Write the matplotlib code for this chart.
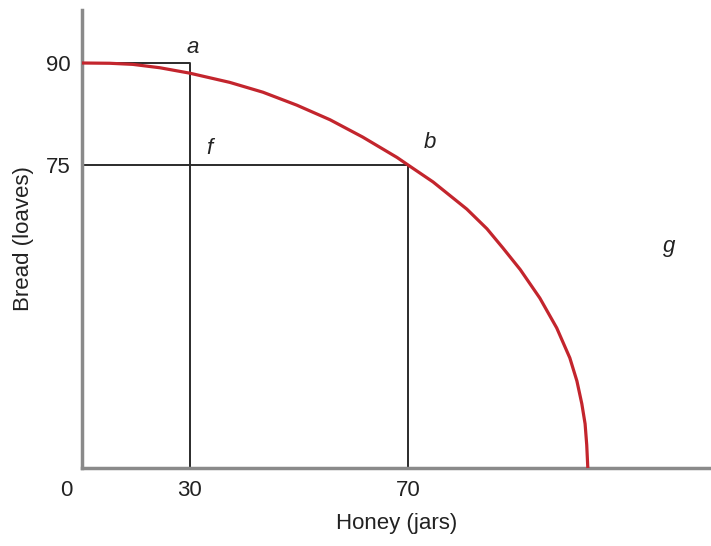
import matplotlib
matplotlib.use("Agg")
import matplotlib.pyplot as plt

# production possibilities frontier
honey = [10.2, 15.3, 19.5, 24.5, 30.0, 37.3, 43.4, 49.6, 55.7, 61.7, 68.0, 70.0,
         74.6, 80.8, 84.5, 87.4, 90.6, 94.2, 97.3, 99.7, 101.0, 101.9, 102.5,
         102.8, 103.0]
bread = [90.0, 89.96, 89.8, 89.3, 88.5, 87.15, 85.7, 83.8, 81.65, 79.1, 76.1, 75.0,
         72.5, 68.5, 65.6, 62.8, 59.6, 55.4, 51.0, 46.6, 43.2, 39.85, 36.9,
         33.8, 30.4]

x_ticks = [30, 70]
y_ticks = [75, 90]

# labelled points: name -> (honey, bread)
points = {"a": (30, 90), "f": (30, 75), "b": (70, 75), "g": (118, 63)}

x_min, x_max = 10.2, 125.6
y_min, y_max = 30.4, 97.8

plt.rcParams["font.family"] = ["Liberation Sans Narrow", "DejaVu Sans Condensed",
                               "Liberation Sans", "DejaVu Sans"]
FS = 16
INK = "#222222"

fig = plt.figure(figsize=(7.11, 5.46), dpi=100)
ax = fig.add_axes([82 / 711, 78 / 546, 1 - 82 / 711, (468 - 10) / 546])

ax.set_xlim(x_min, x_max)
ax.set_ylim(y_min, y_max)

guide = dict(color="#2b2b2b", lw=1.4, solid_capstyle="butt")
ax.plot([x_min, 30, 30], [90, 90, y_min], **guide)
ax.plot([x_min, 70, 70], [75, 75, y_min], **guide)

ax.plot(honey, bread, color="#c3252d", lw=2.3, solid_joinstyle="round",
        solid_capstyle="butt", clip_on=False, zorder=3)

for s in ["top", "right"]:
    ax.spines[s].set_visible(False)
for s in ["left", "bottom"]:
    ax.spines[s].set_color("#8a8a8a")
    ax.spines[s].set_linewidth(2.5)

ax.set_xticks(x_ticks)
ax.set_yticks(y_ticks)
ax.tick_params(axis="x", length=0, pad=9, labelsize=FS, labelcolor=INK)
ax.tick_params(axis="y", length=0, pad=8, labelsize=FS, labelcolor=INK)

# origin label shared by both axes
ax.annotate("0", (0, 0), xycoords="axes fraction", xytext=(-7, -9),
            textcoords="offset points", fontsize=FS, color=INK,
            ha="right", va="top")

ax.set_xlabel("Honey (jars)", fontsize=FS, color=INK, labelpad=8)
ax.set_ylabel("Bread (loaves)", fontsize=FS, color=INK, labelpad=9)

offsets = {"a": (2, 11), "f": (14, 12), "b": (16, 16), "g": (0, 0)}
for name, (hx, by) in points.items():
    dx, dy = offsets[name]
    ax.annotate(name, (hx, by), xytext=(dx, dy), textcoords="offset points",
                fontsize=FS, style="italic", color=INK,
                ha="center", va="center")

fig.savefig("out.png", dpi=100)
